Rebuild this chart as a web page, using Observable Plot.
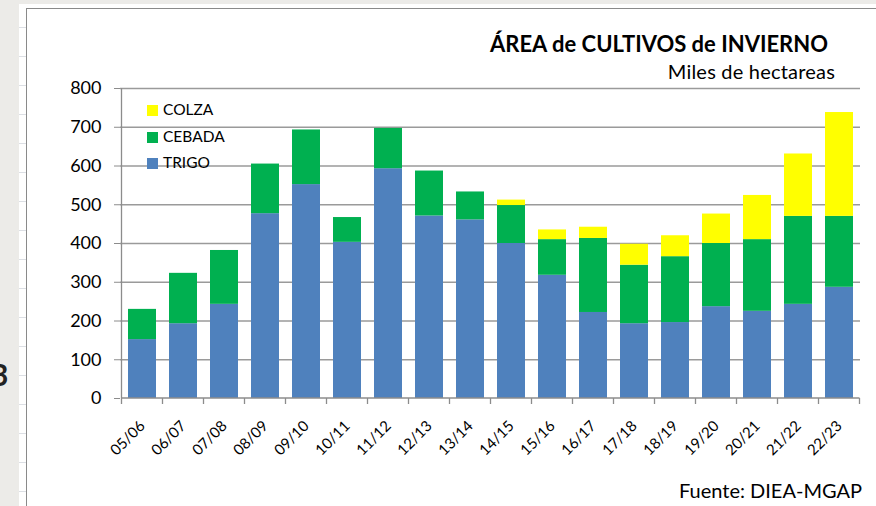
<!DOCTYPE html>
<html><head><meta charset="utf-8">
<script src="https://cdn.jsdelivr.net/npm/d3@7"></script>
<script src="https://cdn.jsdelivr.net/npm/@observablehq/plot@0.6"></script>
<style>
body{margin:0;}
#page{position:relative;width:876px;height:506px;overflow:hidden;background:#ecebe8;font-family:Lato,"Noto Sans",sans-serif;color:#000;}
#sheet{position:absolute;left:19px;top:4px;right:0;bottom:0;background-color:#fff;
 background-image:repeating-linear-gradient(to bottom,transparent 0 23px,#dcdfe4 23px 24px,transparent 24px 29px);}
#frame{position:absolute;left:26px;top:8px;right:-4px;bottom:-4px;background:#fff;border:1.5px solid #8a8a8a;}
#three{position:absolute;left:-9px;top:356px;font-weight:bold;font-size:30px;color:#222;}
#title{position:absolute;right:48px;top:31px;font-weight:bold;font-size:22px;white-space:nowrap;line-height:1.2;}
#subtitle{position:absolute;right:41px;top:59px;font-size:20px;letter-spacing:0.2px;white-space:nowrap;line-height:1.2;}
#source{position:absolute;right:14px;top:478px;font-size:20px;white-space:nowrap;line-height:1.2;}
#chart{position:absolute;left:0;top:80px;}
#legend{position:absolute;left:147px;top:100px;font-size:15.5px;line-height:1.2;}
.item{position:absolute;left:0;white-space:nowrap;}
.sw{display:inline-block;width:11px;height:11px;margin-right:5px;vertical-align:-1px;}
</style></head>
<body>
<div id="page">
  <div id="three">3</div>
  <div id="sheet"></div>
  <div id="frame"></div>
  <div id="chart"></div>
  <div id="title">ÁREA de CULTIVOS de INVIERNO</div>
  <div id="subtitle">Miles de hectareas</div>
  <div id="legend"></div>
  <div id="source">Fuente: DIEA-MGAP</div>
</div>
<script>
const seasons = ["05/06","06/07","07/08","08/09","09/10","10/11","11/12","12/13","13/14","14/15","15/16","16/17","17/18","18/19","19/20","20/21","21/22","22/23"];
const trigo  = [152,193,243,477,552,403,593,471,461,400,318,222,193,196,237,225,243,287];
const cebada = [78,130,139,128,141,64,104,116,72,98,92,191,151,170,163,185,227,183];
const colza  = [0,0,0,0,0,0,0,0,0,14,25,29,54,54,76,114,161,268];
const cultivos = ["TRIGO","CEBADA","COLZA"];
const colores = ["#4f81bd","#00b050","#ffff00"];
const yTicks = [0,100,200,300,400,500,600,700,800];
const legendOrder = ["COLZA","CEBADA","TRIGO"];

const series = {TRIGO: trigo, CEBADA: cebada, COLZA: colza};
const rows = seasons.flatMap((s, i) => cultivos.map(c => ({season: s, cultivo: c, value: series[c][i]})));

function frameAndTicks(index, scales, values, dims) {
  const x = scales.x;
  const bw = typeof x.bandwidth === "function" ? x.bandwidth() : (x.bandwidth || 0);
  const dom = seasons;
  const step = x(dom[1]) - x(dom[0]);
  const y0 = scales.y(0);
  const g = d3.create("svg:g").attr("stroke", "#8c8c8c").attr("stroke-width", 1.3).attr("fill", "none");
  const bounds = dom.map(d => x(d) + bw / 2 - step / 2);
  bounds.push(x(dom[dom.length - 1]) + bw / 2 + step / 2);
  for (const b of bounds) g.append("line").attr("x1", b).attr("x2", b).attr("y1", y0).attr("y2", y0 + 6);
  g.append("line").attr("x1", bounds[0]).attr("x2", bounds[0]).attr("y1", scales.y(800)).attr("y2", y0);
  g.append("line").attr("x1", bounds[0]).attr("x2", bounds[bounds.length - 1]).attr("y1", y0).attr("y2", y0);
  return g.node();
}

const plot = Plot.plot({
  width: 876,
  height: 380,
  marginLeft: 120,
  marginRight: 16,
  marginTop: 8,
  marginBottom: 62,
  style: {fontFamily: "Lato, 'Noto Sans', sans-serif", fontSize: "15px", color: "#000", background: "transparent", overflow: "visible"},
  x: {domain: seasons, paddingInner: 0.32, paddingOuter: 0.16, align: 0.5, label: null, tickSize: 0, tickRotate: -45, tickPadding: 25},
  y: {domain: [0, 800], ticks: yTicks, tickSize: 6, tickPadding: 13, label: null, tickFormat: d => String(d)},
  color: {domain: cultivos, range: colores},
  marks: [
    Plot.ruleY(yTicks.slice(1), {stroke: "#9a9a9a", strokeWidth: 1.3, strokeOpacity: 1}),
    Plot.barY(rows, {x: "season", y: "value", fill: "cultivo", inset: 0}),
    frameAndTicks
  ]
});
document.getElementById("chart").appendChild(plot);

plot.querySelectorAll("g[aria-label='y-axis tick label']").forEach(g => { g.setAttribute("font-size", "18px"); });
plot.querySelectorAll("g[aria-label='y-axis tick'], g[aria-label='x-axis tick'], g[aria-label='y-axis']").forEach(g => {
  g.setAttribute("stroke", "#8c8c8c");
});

const legend = document.getElementById("legend");
legendOrder.forEach((c, i) => {
  const d = document.createElement("div");
  d.className = "item";
  d.style.top = (i * 26.5) + "px";
  d.innerHTML = `<span class="sw" style="background:${colores[cultivos.indexOf(c)]}"></span>${c}`;
  legend.appendChild(d);
});
</script>
</body></html>
